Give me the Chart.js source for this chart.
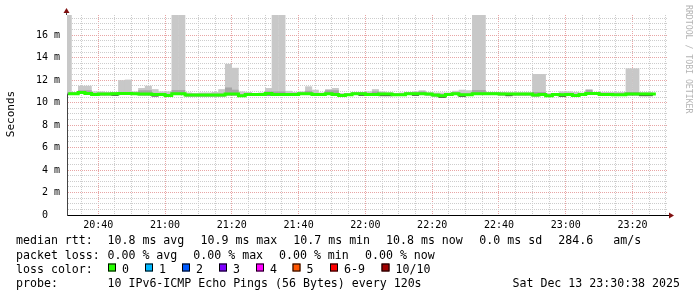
<!DOCTYPE html>
<html>
<head>
<meta charset="utf-8">
<script src="https://cdn.jsdelivr.net/npm/chart.js@4.4.1/dist/chart.umd.min.js"></script>
<style>
  html, body { margin: 0; padding: 0; background: #fff; }
  canvas { display: block; }
</style>
</head>
<body>
<canvas id="smokeChart" width="697" height="297"></canvas>
<script>
// time in minutes after 20:00, window 20:30:38 .. 23:30:38
const viewStart = 30.633;
const viewEnd = 210.633;
const firstStep = 30;   // first 2-minute step starts 20:30
const stepMin = 2;

// tick labels
const timeTicks = ['20:40', '21:00', '21:20', '21:40', '22:00', '22:20', '22:40', '23:00', '23:20'];
const valueTicks = ['0  ', '2 m', '4 m', '6 m', '8 m', '10 m', '12 m', '14 m', '16 m'];

// smoke (ms), one value per 2 min step
const maxPing = [
  17.8, 10.95, 11.50, 11.50, 11.00, 11.00, 10.95, 10.95, 12.00, 12.05,
  11.00, 11.30, 11.50, 11.20, 11.00, 11.00, 17.8, 17.8, 10.90, 10.85,
  10.90, 10.90, 10.95, 11.20, 13.45, 13.10, 11.00, 10.95, 10.85, 10.90,
  11.30, 17.8, 17.8, 11.05, 10.95, 11.00, 11.45, 11.15, 10.90, 11.20,
  11.30, 10.85, 10.85, 10.93, 10.95, 11.00, 11.20, 11.00, 10.90, 10.85,
  10.90, 10.95, 11.00, 11.10, 10.90, 10.90, 10.90, 10.90, 11.05, 11.15,
  11.10, 17.8, 17.8, 10.93, 10.93, 10.95, 10.90, 10.90, 10.90, 10.90,
  12.55, 12.55, 10.85, 10.85, 11.00, 11.00, 10.95, 10.90, 11.20, 10.95,
  10.95, 10.95, 10.95, 10.95, 13.05, 13.05, 10.90, 10.90
];
const innerTop = [
  10.91, 10.91, 11.10, 11.10, 10.85, 10.88, 10.88, 10.91, 10.95, 10.95,
  10.91, 11.10, 11.10, 10.85, 10.85, 10.76, 11.12, 11.12, 10.79, 10.79,
  10.79, 10.79, 10.79, 10.79, 11.35, 11.15, 10.73, 10.85, 10.85, 10.85,
  11.00, 11.00, 11.00, 10.85, 10.85, 10.91, 11.05, 10.85, 10.85, 11.10,
  11.10, 10.76, 10.82, 10.91, 10.91, 10.85, 11.00, 10.88, 10.88, 10.82,
  10.82, 10.91, 10.91, 11.00, 10.88, 10.79, 10.73, 10.85, 10.91, 10.82,
  10.82, 11.12, 11.12, 10.91, 10.91, 10.88, 10.88, 10.88, 10.88, 10.88,
  10.95, 10.95, 10.73, 10.85, 10.82, 10.85, 10.76, 10.85, 11.12, 10.94,
  10.85, 10.85, 10.82, 10.82, 10.95, 10.95, 10.88, 10.88
];
const minPing = [
  10.69, 10.69, 10.80, 10.72, 10.63, 10.66, 10.66, 10.61, 10.72, 10.72,
  10.69, 10.66, 10.66, 10.55, 10.63, 10.54, 10.69, 10.69, 10.57, 10.57,
  10.57, 10.57, 10.57, 10.57, 10.66, 10.66, 10.51, 10.63, 10.63, 10.63,
  10.64, 10.63, 10.63, 10.63, 10.63, 10.69, 10.69, 10.63, 10.63, 10.69,
  10.63, 10.54, 10.60, 10.69, 10.61, 10.63, 10.63, 10.58, 10.58, 10.60,
  10.60, 10.69, 10.61, 10.69, 10.66, 10.57, 10.43, 10.63, 10.69, 10.52,
  10.60, 10.69, 10.69, 10.69, 10.69, 10.66, 10.58, 10.66, 10.66, 10.66,
  10.57, 10.63, 10.51, 10.63, 10.52, 10.63, 10.54, 10.63, 10.72, 10.72,
  10.63, 10.63, 10.60, 10.60, 10.66, 10.66, 10.58, 10.58
];
// median rtt (ms), loss 0 all along
const medianRtt = [
  10.79, 10.79, 10.90, 10.82, 10.73, 10.76, 10.76, 10.79, 10.82, 10.82,
  10.79, 10.76, 10.76, 10.73, 10.73, 10.64, 10.79, 10.79, 10.67, 10.67,
  10.67, 10.67, 10.67, 10.67, 10.76, 10.76, 10.61, 10.73, 10.73, 10.73,
  10.82, 10.73, 10.73, 10.73, 10.73, 10.79, 10.79, 10.73, 10.73, 10.79,
  10.73, 10.64, 10.70, 10.79, 10.79, 10.73, 10.73, 10.76, 10.76, 10.70,
  10.70, 10.79, 10.79, 10.79, 10.76, 10.67, 10.61, 10.73, 10.79, 10.70,
  10.70, 10.79, 10.79, 10.79, 10.79, 10.76, 10.76, 10.76, 10.76, 10.76,
  10.67, 10.73, 10.61, 10.73, 10.70, 10.73, 10.64, 10.73, 10.82, 10.82,
  10.73, 10.73, 10.70, 10.70, 10.76, 10.76, 10.76, 10.76, 10.76
];

// legend
const lossLabels = ['0', '1', '2', '3', '4', '5', '6-9', '10/10'];
const lossColors = ['#26ff00', '#00b8ff', '#0059ff', '#7e00ff', '#ff00ff', '#ff5500', '#ff0000', '#a10000'];
const lossBoxX = [108, 145, 182, 219, 256, 292.5, 330, 381.5];
const statRow = [[16, 'median rtt:'], [107.5, '10.8 ms avg'], [200.5, '10.9 ms max'], [293.3, '10.7 ms min'],
                 [386, '10.8 ms now'], [479.3, '0.0 ms sd'], [558.3, '284.6'], [613.3, 'am/s']];
const lossRow = [[16, 'packet loss:'], [107.5, '0.00 % avg'], [193.3, '0.00 % max'], [279, '0.00 % min'], [365, '0.00 % now']];

const stepCenter = i => firstStep + stepMin * i + stepMin / 2;
const floating = (lo, hi) => lo.map((v, i) => ({ x: stepCenter(i), y: [v, hi[i]] }));

const barBase = { type: 'bar', grouped: false, categoryPercentage: 1, barPercentage: 1.06, borderWidth: 0, clip: 0 };

const majorGrid = 'rgb(232,165,165)';
const minorGrid = 'rgb(205,205,205)';

// extra bits rrdtool draws: arrows, titles, legend text
const rrdDecor = {
  id: 'rrdDecor',
  afterDraw(chart) {
    const c = chart.ctx, a = chart.chartArea;
    c.save();
    // y axis extension + arrow
    c.strokeStyle = '#444';
    c.lineWidth = 1;
    c.beginPath(); c.moveTo(a.left - 0.5, a.top); c.lineTo(a.left - 0.5, 12); c.stroke();
    c.fillStyle = '#801010';
    c.beginPath(); c.moveTo(a.left - 3.5, 13); c.lineTo(a.left + 2.5, 13); c.lineTo(a.left - 0.5, 8); c.closePath(); c.fill();
    // x axis arrow
    c.strokeStyle = '#000';
    c.beginPath(); c.moveTo(a.right, a.bottom + 0.5); c.lineTo(a.right + 2, a.bottom + 0.5); c.stroke();
    c.beginPath(); c.moveTo(a.right + 1, a.bottom - 2.5); c.lineTo(a.right + 1, a.bottom + 3.5); c.lineTo(a.right + 6, a.bottom + 0.5); c.closePath(); c.fill();

    // y title
    c.fillStyle = '#000';
    c.font = "11px 'DejaVu Sans Mono'";
    c.textAlign = 'center';
    c.textBaseline = 'middle';
    c.save(); c.translate(11, 114); c.rotate(-Math.PI / 2); c.fillText('Seconds', 0, 0); c.restore();

    // watermark
    c.fillStyle = '#b4b4b4';
    c.font = "8.2px 'DejaVu Sans Mono'";
    c.textAlign = 'left';
    c.save(); c.translate(688, 5); c.rotate(Math.PI / 2); c.fillText('RRDTOOL / TOBI OETIKER', 0, 0); c.restore();

    // legend lines
    c.fillStyle = '#000';
    c.font = "11.6px 'DejaVu Sans Mono'";
    c.textBaseline = 'alphabetic';
    statRow.forEach(([x, t]) => c.fillText(t, x, 244));
    lossRow.forEach(([x, t]) => c.fillText(t, x, 259));
    c.fillText('loss color:', 16, 273);
    lossLabels.forEach((t, i) => {
      c.fillStyle = lossColors[i];
      c.fillRect(lossBoxX[i], 263.5, 8, 8);
      c.strokeStyle = '#000';
      c.strokeRect(lossBoxX[i] + 0.5, 263.5 + 0.5, 7, 7);
      c.fillStyle = '#000';
      c.fillText(t, lossBoxX[i] + 14, 273);
    });
    c.fillText('probe:', 16, 287);
    c.fillText('10 IPv6-ICMP Echo Pings (56 Bytes) every 120s', 107.5, 287);
    c.textAlign = 'right';
    c.fillText('Sat Dec 13 23:30:38 2025', 680, 287);
    c.restore();
  }
};

Chart.defaults.font.family = "'DejaVu Sans Mono', monospace";
Chart.defaults.color = '#000';

new Chart(document.getElementById('smokeChart'), {
  type: 'bar',
  data: {
    datasets: [
      {
        type: 'line',
        label: 'median rtt',
        data: medianRtt.map((v, i) => ({ x: stepCenter(i), y: v })),
        borderColor: '#26ff00',
        borderWidth: 3,
        borderCapStyle: 'butt',
        pointRadius: 0,
        stepped: 'middle',
        fill: false,
        order: 0
      },
      { ...barBase, label: 'low', data: floating(minPing, medianRtt), backgroundColor: '#4a4a4a', order: 1 },
      { ...barBase, label: 'inner', data: floating(minPing, innerTop), backgroundColor: '#a6a6a6', order: 2 },
      { ...barBase, label: 'smoke', data: floating(minPing, maxPing), backgroundColor: '#c8c8c8', order: 3 }
    ]
  },
  options: {
    responsive: false,
    devicePixelRatio: 1,
    animation: false,
    layout: { padding: { left: 7, right: 29, top: 15, bottom: 62 } },
    plugins: { legend: { display: false }, tooltip: { enabled: false } },
    scales: {
      x: {
        type: 'linear',
        min: viewStart,
        max: viewEnd,
        offset: false,
        afterFit: s => { s.height = 20; },
        afterBuildTicks: s => {
          const t = [];
          for (let m = 35; m <= 210; m += 5) t.push({ value: m });
          s.ticks = t;
        },
        ticks: {
          autoSkip: false,
          maxRotation: 0,
          padding: 4,
          font: { size: 10 },
          callback: v => (v % 20 === 0 ? timeTicks[(v - 40) / 20] : '')
        },
        grid: {
          offset: false,
          drawTicks: false,
          lineWidth: 1,
          color: ctx => (ctx.tick && ctx.tick.value % 20 === 0 ? majorGrid : minorGrid)
        },
        border: { color: '#000', width: 1, dash: [1, 1] }
      },
      y: {
        min: 0,
        max: 17.8,
        afterFit: s => { s.width = 60; },
        afterBuildTicks: s => {
          const t = [];
          for (let v = 0; v <= 17.5; v += 0.5) t.push({ value: v });
          s.ticks = t;
        },
        ticks: {
          autoSkip: false,
          padding: 7,
          font: { size: 10 },
          callback: v => (v % 2 === 0 ? valueTicks[v / 2] : '')
        },
        grid: {
          drawTicks: false,
          lineWidth: 1,
          color: ctx => (ctx.tick && ctx.tick.value % 2 === 0 ? majorGrid : minorGrid)
        },
        border: { color: '#444', width: 1, dash: [1, 1] }
      }
    }
  },
  plugins: [rrdDecor]
});
</script>
</body>
</html>
